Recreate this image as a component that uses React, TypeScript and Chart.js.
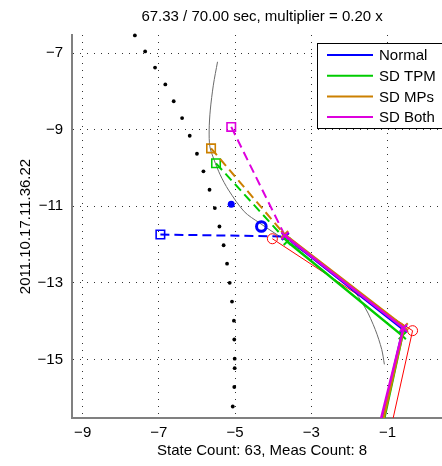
import React, { useEffect, useRef } from 'react';
import { Chart, registerables } from 'chart.js';
Chart.register(...registerables);

const FONT = '"Liberation Sans", Arial, Helvetica, sans-serif';

const titleText = '67.33 / 70.00 sec, multiplier = 0.20 x';
const xAxisLabel = 'State Count: 63, Meas Count: 8';
const yAxisLabel = '2011.10.17.11.36.22';
const xTickValues = [-9, -7, -5, -3, -1];
const yTickValues = [-15, -13, -11, -9, -7];
const xRange = [-9.28, 0.7];
const yRange = [-16.53, -6.53];

const seriesNames = ['Normal', 'SD TPM', 'SD MPs', 'SD Both'];
const seriesColors = ['#0000ff', '#00cc00', '#cc8000', '#dd00dd'];

// state history (black dots)
const historyX = [-7.63, -7.36, -7.10, -6.83, -6.61, -6.39, -6.19, -6.00, -5.83, -5.67, -5.53, -5.41, -5.30, -5.21, -5.14, -5.08, -5.03, -5.02, -5.01, -5.01, -5.02, -5.06];
const historyY = [-6.54, -6.96, -7.38, -7.82, -8.26, -8.70, -9.16, -9.63, -10.09, -10.57, -11.05, -11.53, -12.02, -12.50, -13.00, -13.49, -13.99, -14.48, -14.98, -15.23, -15.72, -16.23];

// reference path (gray curve)
const refCurveX = [-5.46, -5.57, -5.65, -5.68, -5.66, -5.55, -5.39, -5.17, -4.76, -4.37, -3.58, -2.80, -1.98, -1.58, -1.32, -1.15, -1.08];
const refCurveY = [-7.23, -7.84, -8.49, -9.01, -9.45, -9.79, -10.18, -10.58, -11.14, -11.43, -11.95, -12.45, -13.09, -13.66, -14.22, -14.74, -15.13];

// prior (square) positions for Normal, SD TPM, SD MPs, SD Both
const priorX = [-6.96, -5.50, -5.63, -5.10];
const priorY = [-11.74, -9.88, -9.49, -8.93];

// tracks (solid lines with x markers)
const normalTrackX = [-3.68, -0.59, -1.19];
const normalTrackY = [-11.79, -14.21, -16.8];
const tpmTrackX = [-3.63, -0.61, -1.14];
const tpmTrackY = [-11.92, -14.38, -16.8];
const mpsTrackX = [-3.70, -0.56, -1.16];
const mpsTrackY = [-11.74, -14.15, -16.8];
const bothTrackX = [-3.69, -0.58, -1.23];
const bothTrackY = [-11.77, -14.18, -16.8];

// measurements (red circles)
const measX = [-4.02, -0.34, -0.91];
const measY = [-11.85, -14.25, -16.8];

// current estimate markers
const meanDotX = [-5.10];
const meanDotY = [-10.95];
const meanCircleX = [-4.31];
const meanCircleY = [-11.53];

const pts = (xs: number[], ys: number[]) => xs.map((x, i) => ({ x, y: ys[i] }));
const fmt = (v: number) => (v < 0 ? '\u2212' : '') + Math.abs(v);

const legendPlugin = {
  id: 'boxLegend',
  afterDraw(chart: any) {
    const ctx = chart.ctx;
    const left = 317.5, top = 43.5, h = 85;
    ctx.save();
    ctx.fillStyle = '#ffffff';
    ctx.fillRect(left, top, 200, h);
    ctx.strokeStyle = '#000000';
    ctx.lineWidth = 1;
    ctx.strokeRect(left, top, 200, h);
    seriesNames.forEach((name, i) => {
      const y = 55 + i * 20.7;
      ctx.strokeStyle = seriesColors[i];
      ctx.lineWidth = 2;
      ctx.beginPath();
      ctx.moveTo(327, y);
      ctx.lineTo(373, y);
      ctx.stroke();
      ctx.fillStyle = '#000000';
      ctx.font = `15px ${FONT}`;
      ctx.textBaseline = 'middle';
      ctx.textAlign = 'left';
      ctx.fillText(name, 379, y + 1);
    });
    ctx.restore();
  },
};

export default function App() {
  const ref = useRef<HTMLCanvasElement | null>(null);
  useEffect(() => {
    if (!ref.current) return;
    Chart.defaults.font.family = FONT;
    Chart.defaults.font.size = 15;
    Chart.defaults.color = '#000';

    const trackXs = [normalTrackX, tpmTrackX, mpsTrackX, bothTrackX];
    const trackYs = [normalTrackY, tpmTrackY, mpsTrackY, bothTrackY];

    const datasets: any[] = [];
    datasets.push({
      label: 'history',
      data: pts(historyX, historyY),
      showLine: false,
      pointRadius: 1.9,
      pointBackgroundColor: '#000',
      pointBorderWidth: 0,
      clip: false,
      order: 20,
    });
    datasets.push({
      label: 'reference',
      data: pts(refCurveX, refCurveY),
      showLine: true,
      tension: 0.3,
      borderColor: '#6a6a6a',
      borderWidth: 1,
      pointRadius: 0,
      order: 19,
    });
    seriesNames.forEach((name, i) => {
      datasets.push({
        label: name + ' prior',
        data: [
          { x: priorX[i], y: priorY[i] },
          { x: trackXs[i][0], y: trackYs[i][0] },
        ],
        showLine: true,
        borderColor: seriesColors[i],
        borderWidth: 2,
        borderDash: [9, 5],
        pointStyle: 'rect',
        pointRadius: [6, 0],
        pointBorderWidth: 1.6,
        pointBorderColor: seriesColors[i],
        pointBackgroundColor: 'rgba(0,0,0,0)',
        backgroundColor: 'rgba(0,0,0,0)',
        order: 18 - i,
      });
    });
    datasets.push({
      label: 'measurements',
      data: pts(measX, measY),
      showLine: true,
      borderColor: '#ff0000',
      borderWidth: 1,
      pointStyle: 'circle',
      pointRadius: [5, 5, 0],
      pointBorderWidth: 1,
      pointBorderColor: '#ff0000',
      pointBackgroundColor: 'rgba(0,0,0,0)',
      backgroundColor: 'rgba(0,0,0,0)',
      order: 12,
    });
    seriesNames.forEach((name, i) => {
      datasets.push({
        label: name,
        data: pts(trackXs[i], trackYs[i]),
        showLine: true,
        borderColor: seriesColors[i],
        borderWidth: 2.5,
        pointStyle: 'crossRot',
        pointRadius: [5, 5, 0],
        pointBorderWidth: 2,
        pointBorderColor: seriesColors[i],
        backgroundColor: 'rgba(0,0,0,0)',
        order: 10 - i,
      });
    });
    datasets.push({
      label: 'mean dot',
      data: pts(meanDotX, meanDotY),
      showLine: false,
      pointRadius: 3.5,
      pointBackgroundColor: '#0000ff',
      pointBorderWidth: 0,
      order: 2,
    });
    datasets.push({
      label: 'mean circle',
      data: pts(meanCircleX, meanCircleY),
      showLine: false,
      pointRadius: 4.8,
      pointBorderWidth: 3,
      pointBorderColor: '#0000ff',
      pointBackgroundColor: 'rgba(0,0,0,0)',
      order: 1,
    });

    const chart = new Chart(ref.current, {
      type: 'scatter',
      data: { datasets },
      options: {
        responsive: false,
        animation: false,
        layout: { padding: { left: 0, right: 6, top: 0, bottom: 0 } },
        plugins: {
          legend: { display: false },
          tooltip: { enabled: false },
          title: {
            display: true,
            text: titleText,
            fullSize: false,
            color: '#000',
            font: { size: 15, weight: 'normal', family: FONT },
            padding: { top: 8, bottom: 9 },
          },
        },
        scales: {
          x: {
            type: 'linear',
            min: xRange[0],
            max: xRange[1],
            afterBuildTicks: (s: any) => {
              s.ticks = xTickValues.map((v) => ({ value: v }));
            },
            afterFit: (s: any) => {
              s.height = 48;
            },
            grid: { color: 'rgba(0,0,0,0.8)', lineWidth: 1, drawTicks: false },
            border: { display: true, color: '#808080', width: 2, dash: [1, 6] },
            ticks: { padding: 6, color: '#000', font: { size: 15 }, maxRotation: 0, callback: (v: any) => fmt(Number(v)) },
            title: { display: true, text: xAxisLabel, color: '#000', font: { size: 15 }, padding: { top: 0, bottom: 6 } },
          },
          y: {
            type: 'linear',
            min: yRange[0],
            max: yRange[1],
            afterBuildTicks: (s: any) => {
              s.ticks = yTickValues.map((v) => ({ value: v }));
            },
            afterFit: (s: any) => {
              s.width = 72;
            },
            grid: { color: 'rgba(0,0,0,0.8)', lineWidth: 1, drawTicks: false },
            border: { display: true, color: '#808080', width: 2, dash: [1, 6] },
            ticks: { padding: 9, color: '#000', font: { size: 15 }, callback: (v: any) => fmt(Number(v)) },
            title: { display: true, text: yAxisLabel, color: '#000', font: { size: 15 }, padding: { top: 16.5, bottom: 0 } },
          },
        },
      } as any,
      plugins: [legendPlugin],
    });
    return () => chart.destroy();
  }, []);

  return (
    <div style={{ position: 'absolute', left: 0, top: 0, width: 442, height: 466, overflow: 'hidden', background: '#fff' }}>
      <canvas ref={ref} width={460} height={466} style={{ display: 'block' }} />
    </div>
  );
}
